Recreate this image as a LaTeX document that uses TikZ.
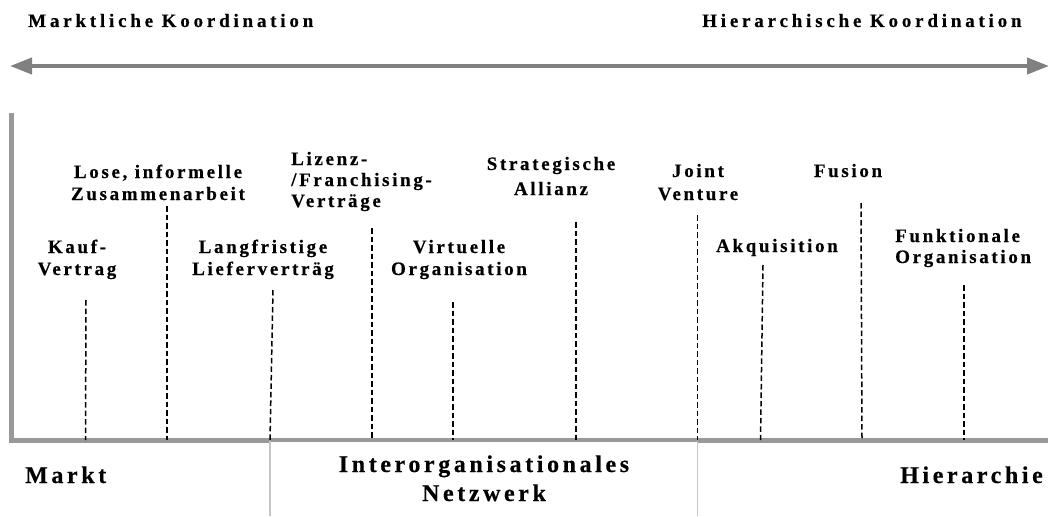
\documentclass[tikz,border=0pt]{standalone}
\usepackage{fontspec}
\setmainfont{Liberation Serif}
\newfontfamily\lblfont{Liberation Serif}[LetterSpace=14,BoldFeatures={FakeBold=0.4}]
\newfontfamily\ttlfont{Liberation Serif}[LetterSpace=20,BoldFeatures={FakeBold=0.4}]
\newfontfamily\zonefont{Liberation Serif}[LetterSpace=15,BoldFeatures={FakeBold=0.4}]
\usetikzlibrary{arrows.meta}
\definecolor{arrowgray}{HTML}{808080}
\definecolor{axisgray}{HTML}{999999}
\definecolor{boxgray}{HTML}{C4C4C4}

\begin{document}
\begin{tikzpicture}[x=1pt,y=-1pt,
  lbl/.style={font={\lblfont\fontsize{19}{22}\selectfont\bfseries}, inner sep=0, align=center, anchor=base},
  lblleft/.style={lbl, align=left, anchor=base west},
  ttl/.style={font={\ttlfont\fontsize{19}{20}\selectfont\bfseries}, inner sep=0, anchor=base west},
  zone/.style={font={\zonefont\fontsize{24}{29}\selectfont\bfseries}, inner sep=0, align=center, anchor=base},
  dline/.style={black, line width=1.5pt, dash pattern=on 5.5pt off 3pt},
  axis/.style={axisgray, line width=5.5pt, line join=miter}
]
\useasboundingbox (0,0) rectangle (1048,516);

% coordination scale at the top
\node[ttl] (mk) at (28,27) {Marktliche Koordination};
\node[ttl] (hk) at (702,27) {Hierarchische Koordination};
\coordinate (scaleL) at (10,66);
\coordinate (scaleR) at (1049,66);
\draw[arrowgray, line width=4pt,
  {Triangle[length=22pt,width=16pt]}-{Triangle[length=22pt,width=16pt]}] (scaleL) -- (scaleR);

% axes
\coordinate (yTop) at (11.5,113);
\coordinate (origin) at (11.5,440.5);
\coordinate (xEnd) at (1048,440.5);
\draw[axis] (yTop) -- (origin) -- (xEnd);

% network zone below the axis
\coordinate (netL) at (270,441);
\coordinate (netR) at (697.5,441);
\fill[white] (270,442) rectangle (697.5,516);
\draw[boxgray, line width=1.5pt] (netL) -- (270,516);
\draw[boxgray, line width=1.5pt] (netR) -- (697.5,516);

% zone labels (base = baseline of the last line)
\node[zone, anchor=base west] (markt) at (25,483) {Markt};
\node[zone] (netz) at (484,501) {Interorganisationales\\Netzwerk};
\node[zone, anchor=base west] (hier) at (900,483) {Hierarchie};

% forms of coordination
\node[lbl] (kauf) at (77,275) {Kauf-\\Vertrag};
\node[lbl] (lose) at (158,200) {Lose, informelle\\Zusammenarbeit};
\node[lbl] (langf) at (263,275) {Langfristige\\Lieferverträg};
\node[lblleft, font={\lblfont\fontsize{19}{21}\selectfont\bfseries}] (lizenz) at (291,207) {Lizenz-\\/Franchising-\\Verträge};
\node[lbl, font={\lblfont\fontsize{19}{25}\selectfont\bfseries}] (strat) at (551,195) {Strategische\\Allianz};
\node[lbl] (virt) at (459,275) {Virtuelle\\Organisation};
\node[lbl, font={\lblfont\fontsize{19}{23}\selectfont\bfseries}] (joint) at (698,200) {Joint\\Venture};
\node[lbl] (fusion) at (848,177) {Fusion};
\node[lbl] (akq) at (777,252) {Akquisition};
\node[lblleft, font={\lblfont\fontsize{19}{21}\selectfont\bfseries}] (funk) at (895,263) {Funktionale\\Organisation};

% position markers on the axis
\coordinate (kaufT) at (86,300);   \coordinate (kaufB) at (85.5,440);
\coordinate (loseT) at (167,206);  \coordinate (loseB) at (167,440);
\coordinate (langfT) at (273,290); \coordinate (langfB) at (270,440);
\coordinate (lizenzT) at (372,228); \coordinate (lizenzB) at (372,440);
\coordinate (virtT) at (453,302);  \coordinate (virtB) at (453,440);
\coordinate (stratT) at (576,222); \coordinate (stratB) at (576,440);
\coordinate (jointT) at (697.5,215); \coordinate (jointB) at (697.5,440);
\coordinate (akqT) at (763,265);   \coordinate (akqB) at (760.5,440);
\coordinate (fusionT) at (861,203); \coordinate (fusionB) at (862,440);
\coordinate (funkT) at (964,285);  \coordinate (funkB) at (964,440);
\foreach \m in {kauf,lose,langf,lizenz,virt,strat,joint,akq,fusion,funk}
  \draw[dline] (\m T) -- (\m B);
\end{tikzpicture}
\end{document}
